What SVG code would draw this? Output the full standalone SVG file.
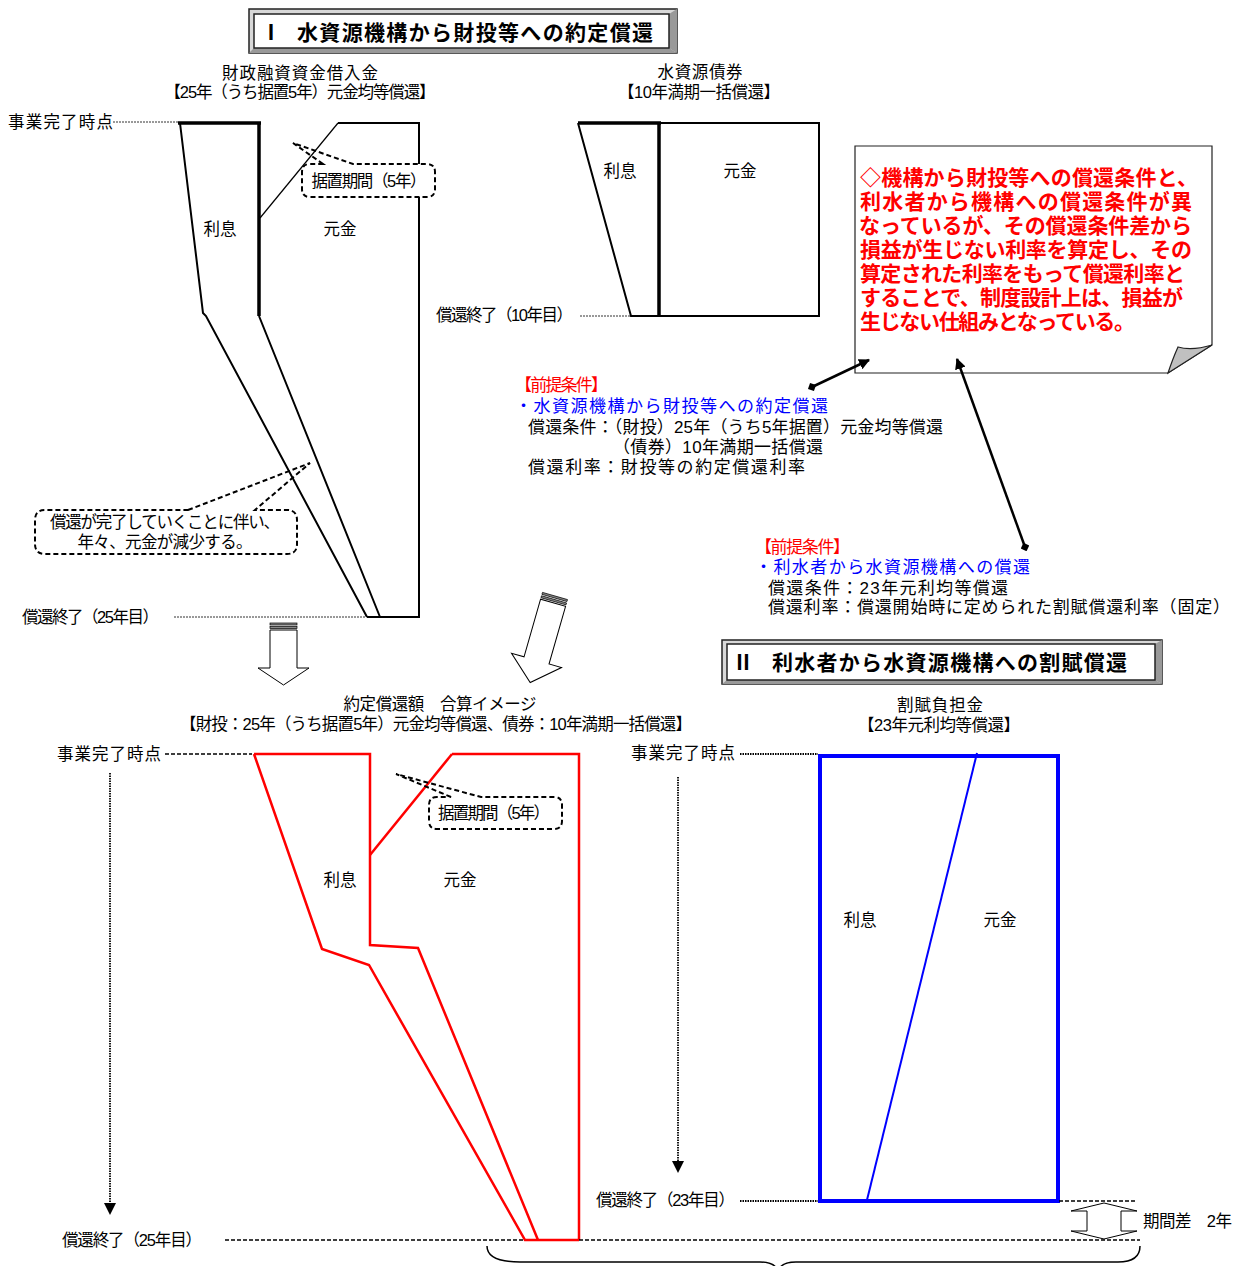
<svg xmlns="http://www.w3.org/2000/svg" width="1246" height="1266" viewBox="0 0 1246 1266">
<style>
text{font-family:"Liberation Sans","Noto Sans CJK JP",sans-serif;font-size:16.5px;fill:#000;dominant-baseline:central}
.c{text-anchor:middle}
.ttl{font-size:21px;font-weight:bold}
.note{font-size:21px;font-weight:bold;fill:#f00}
.cond{font-size:17px}
.red{fill:#f00}.blu{fill:#00f}
.k{fill:none;stroke:#000;stroke-linejoin:miter}
.r{fill:none;stroke:#f00;stroke-width:2.5;stroke-linejoin:miter}
.b{fill:none;stroke:#00f}
.dot{stroke:#333;stroke-width:1;stroke-dasharray:2 1;fill:none}
.dash{stroke:#000;stroke-width:1.5;stroke-dasharray:4 2;fill:none}
.dd{stroke:#000;stroke-width:1.8;stroke-dasharray:1.5 1;fill:none}
.co{fill:none;stroke:#000;stroke-width:2;stroke-dasharray:5 3}
.fat{fill:#fff;stroke:#000;stroke-width:1}
.stp{fill:#888;stroke:#000;stroke-width:0.7}
</style>
<defs>
<marker id="ah" viewBox="0 0 10 10" refX="9" refY="5" markerWidth="11" markerHeight="11" markerUnits="userSpaceOnUse" orient="auto"><path d="M0,0 L10,5 L0,10 Z" fill="#000"/></marker>
<marker id="dm" viewBox="0 0 10 10" refX="5" refY="5" markerWidth="9" markerHeight="9" markerUnits="userSpaceOnUse" orient="auto"><path d="M5,0 L10,5 L5,10 L0,5 Z" fill="#000"/></marker>
</defs>

<g id="title1">
<rect x="249" y="9" width="428" height="44" fill="#d8d8d8" stroke="#222" stroke-width="1.5"/>
<polygon points="669,14 677,9 677,53 669,48" fill="#999"/>
<polygon points="254,48 669,48 677,53 249,53" fill="#999"/>
<rect x="254" y="14" width="415" height="34" fill="#fff" stroke="#222" stroke-width="1.5"/>
<text class="ttl c" x="271" y="32">Ⅰ</text>
<text class="ttl" x="297" y="32" textLength="356" lengthAdjust="spacing">水資源機構から財投等への約定償還</text>
</g>

<g id="title2">
<rect x="722" y="640" width="440" height="44" fill="#d8d8d8" stroke="#222" stroke-width="1.5"/>
<polygon points="1155,644 1162,640 1162,684 1155,680" fill="#999"/>
<polygon points="727,680 1155,680 1162,684 722,684" fill="#999"/>
<rect x="727" y="644" width="428" height="36" fill="#fff" stroke="#222" stroke-width="1.5"/>
<text class="ttl c" x="743" y="662">Ⅱ</text>
<text class="ttl" x="772" y="662" textLength="355" lengthAdjust="spacing">利水者から水資源機構への割賦償還</text>
</g>

<g id="loan-diagram">
<text class="c" x="300" y="73" textLength="156" lengthAdjust="spacing">財政融資資金借入金</text>
<text class="c" x="300" y="92" textLength="271" lengthAdjust="spacing">【25年（うち据置5年）元金均等償還】</text>
<text x="8" y="122" textLength="105" lengthAdjust="spacing">事業完了時点</text>
<path class="k" stroke-width="3.5" d="M178,123 H261 M259,123 V316"/>
<path class="k" stroke-width="2" d="M180,123 L203,313 L206,316 L367,617 M259,316 L380,617 M367,617 H419 V123 H338"/>
<path class="k" stroke-width="1.2" d="M338,123 L260,218"/>
<text class="c" x="220" y="229">利息</text>
<text class="c" x="340" y="229">元金</text>
<text x="22" y="617" textLength="137" lengthAdjust="spacing">償還終了（25年目）</text>
</g>

<g id="callout-sueoki-1">
<rect x="302" y="164" width="133" height="33" rx="8" fill="#fff"/>
<path class="co" d="M323,164 L293,143 L353,164 H427 Q435,164 435,172 V189 Q435,197 427,197 H310 Q302,197 302,189 V172 Q302,164 310,164 Z"/>
<text class="c" x="369" y="181" textLength="115" lengthAdjust="spacing">据置期間（5年）</text>
</g>

<g id="callout-decrease">
<rect x="35" y="510" width="262" height="44" rx="10" fill="#fff"/>
<path class="co" d="M188,510 L310,463 L255,510 H287 Q297,510 297,520 V544 Q297,554 287,554 H45 Q35,554 35,544 V520 Q35,510 45,510 Z"/>
<text class="c" x="165" y="522" textLength="230" lengthAdjust="spacing">償還が完了していくことに伴い、</text>
<text class="c" x="165" y="542" textLength="175" lengthAdjust="spacing">年々、元金が減少する。</text>
</g>

<g id="bond-diagram">
<text class="c" x="700" y="72" textLength="85" lengthAdjust="spacing">水資源債券</text>
<text class="c" x="699" y="92" textLength="162" lengthAdjust="spacing">【10年満期一括償還】</text>
<path class="k" stroke-width="3.5" d="M578,123 H661 M659,123 V316"/>
<path class="k" stroke-width="2" d="M660,123 H819 V316 H631 L578,123"/>
<text class="c" x="620" y="171">利息</text>
<text class="c" x="740" y="171">元金</text>
<text x="436" y="315" textLength="137" lengthAdjust="spacing">償還終了（10年目）</text>
</g>

<g id="note">
<path d="M855,146 H1212 V345 L1168,373 H855 Z" fill="#fff" stroke="#222" stroke-width="1.2"/>
<path d="M1168,373 L1212,345 Q1192,351 1178,347 Q1173,358 1168,373 Z" fill="#c0c0c0" stroke="#222" stroke-width="1.2"/>
<text class="note" x="860" y="177" textLength="338" lengthAdjust="spacing">◇機構から財投等への償還条件と、</text>
<text class="note" x="860" y="201" textLength="332" lengthAdjust="spacing">利水者から機構への償還条件が異</text>
<text class="note" x="859" y="225" textLength="333" lengthAdjust="spacing">なっているが、その償還条件差から</text>
<text class="note" x="860" y="249" textLength="332" lengthAdjust="spacing">損益が生じない利率を算定し、その</text>
<text class="note" x="860" y="273" textLength="325" lengthAdjust="spacing">算定された利率をもって償還利率と</text>
<text class="note" x="860" y="297" textLength="323" lengthAdjust="spacing">することで、制度設計上は、損益が</text>
<text class="note" x="860" y="321" textLength="275" lengthAdjust="spacing">生じない仕組みとなっている。</text>
</g>

<g id="conditions-1">
<text class="cond red" x="515" y="385" textLength="93" lengthAdjust="spacing">【前提条件】</text>
<text class="cond blu" x="515" y="406" textLength="313" lengthAdjust="spacing">・水資源機構から財投等への約定償還</text>
<text class="cond" x="528" y="427" textLength="415" lengthAdjust="spacing">償還条件：（財投）25年（うち5年据置）元金均等償還</text>
<text class="cond" x="613" y="447" textLength="210" lengthAdjust="spacing">（債券）10年満期一括償還</text>
<text class="cond" x="528" y="467" textLength="277" lengthAdjust="spacing">償還利率：財投等の約定償還利率</text>
</g>

<g id="conditions-2">
<text class="cond red" x="755" y="547" textLength="95" lengthAdjust="spacing">【前提条件】</text>
<text class="cond blu" x="755" y="567" textLength="275" lengthAdjust="spacing">・利水者から水資源機構への償還</text>
<text class="cond" x="768" y="588" textLength="240" lengthAdjust="spacing">償還条件：23年元利均等償還</text>
<text class="cond" x="768" y="607" textLength="462" lengthAdjust="spacing">償還利率：償還開始時に定められた割賦償還利率（固定）</text>
</g>

<g id="arrow-down">
<rect class="stp" x="270" y="623" width="27" height="2"/>
<rect class="stp" x="270" y="626.5" width="27" height="2"/>
<path class="fat" d="M270,630 V668 H258 L283.5,685 L309,668 H297 V630 Z"/>
</g>
<g id="arrow-diag" transform="translate(555,596) rotate(16)">
<rect class="stp" x="-13" y="0" width="26" height="2"/>
<rect class="stp" x="-13" y="3.5" width="26" height="2"/>
<path class="fat" d="M-13,7 V67 H-26 L0,90 L26,67 H13 V7 Z"/>
</g>

<g id="sum-diagram">
<text class="c" x="440" y="704" textLength="193" lengthAdjust="spacing">約定償還額　合算イメージ</text>
<text class="c" x="436" y="724" textLength="512" lengthAdjust="spacing">【財投：25年（うち据置5年）元金均等償還、債券：10年満期一括償還】</text>
<text x="57" y="754" textLength="104" lengthAdjust="spacing">事業完了時点</text>
<path class="r" d="M254,754 L322,949 L369,965 L525,1240 H579"/>
<path class="r" d="M254,754 H370 V945 L418,948 L538,1240"/>
<path class="r" stroke-width="3.5" d="M452,754 H579 V1240"/>
<path class="r" d="M452,754 L370,855"/>
<text class="c" x="340" y="880">利息</text>
<text class="c" x="460" y="880">元金</text>
<text x="62" y="1240" textLength="140" lengthAdjust="spacing">償還終了（25年目）</text>
</g>

<g id="callout-sueoki-2">
<rect x="429" y="797" width="133" height="32" rx="8" fill="#fff"/>
<path class="co" d="M451,797 L396,774 L481,797 H554 Q562,797 562,805 V821 Q562,829 554,829 H437 Q429,829 429,821 V805 Q429,797 437,797 Z"/>
<text class="c" x="494" y="813" textLength="112" lengthAdjust="spacing">据置期間（5年）</text>
</g>

<g id="installment-diagram">
<text class="c" x="940" y="705" textLength="86" lengthAdjust="spacing">割賦負担金</text>
<text class="c" x="939" y="725" textLength="162" lengthAdjust="spacing">【23年元利均等償還】</text>
<text x="631" y="753" textLength="104" lengthAdjust="spacing">事業完了時点</text>
<rect class="b" x="820" y="756" width="238" height="445" stroke-width="4"/>
<line class="b" x1="977" y1="753" x2="867" y2="1200" stroke-width="2"/>
<text class="c" x="860" y="920">利息</text>
<text class="c" x="1000" y="920">元金</text>
<text x="596" y="1200" textLength="139" lengthAdjust="spacing">償還終了（23年目）</text>
</g>

<g id="period-diff">
<path class="fat" d="M1104,1203 L1137,1211 H1121 V1231 H1137 L1104,1239 L1071,1231 H1087 V1211 H1071 Z"/>
<text x="1143" y="1221" textLength="89" lengthAdjust="spacing">期間差　2年</text>
</g>

<g id="connectors">
<line class="dot" x1="113" y1="122" x2="178" y2="122"/>
<line class="dot" x1="580" y1="316" x2="630" y2="316"/>
<line class="dot" x1="174" y1="617" x2="366" y2="617"/>
<line class="dash" x1="165" y1="754" x2="252" y2="754"/>
<line class="dd" x1="740" y1="754" x2="818" y2="754"/>
<line class="dd" x1="740" y1="1201" x2="818" y2="1201"/>
<line class="dash" x1="1059" y1="1201" x2="1137" y2="1201"/>
<line class="dash" x1="225" y1="1240" x2="525" y2="1240"/>
<line class="dash" x1="579" y1="1240" x2="1140" y2="1240"/>
<line class="dd" x1="110" y1="773" x2="110" y2="1205"/>
<polygon points="104,1203 116,1203 110,1215" fill="#000"/>
<line class="dd" x1="678" y1="777" x2="678" y2="1163"/>
<polygon points="672,1161 684,1161 678,1173" fill="#000"/>
<line x1="812" y1="387" x2="869" y2="360" stroke="#000" stroke-width="2.5" marker-start="url(#dm)" marker-end="url(#ah)"/>
<line x1="1025" y1="547" x2="957" y2="359" stroke="#000" stroke-width="2.5" marker-start="url(#dm)" marker-end="url(#ah)"/>
<path d="M487,1246 Q487,1262 520,1262 L760,1262 Q776,1262 778,1272 Q780,1262 796,1262 L1118,1262 Q1140,1262 1140,1246" fill="none" stroke="#000" stroke-width="1.5"/>
</g>
</svg>
